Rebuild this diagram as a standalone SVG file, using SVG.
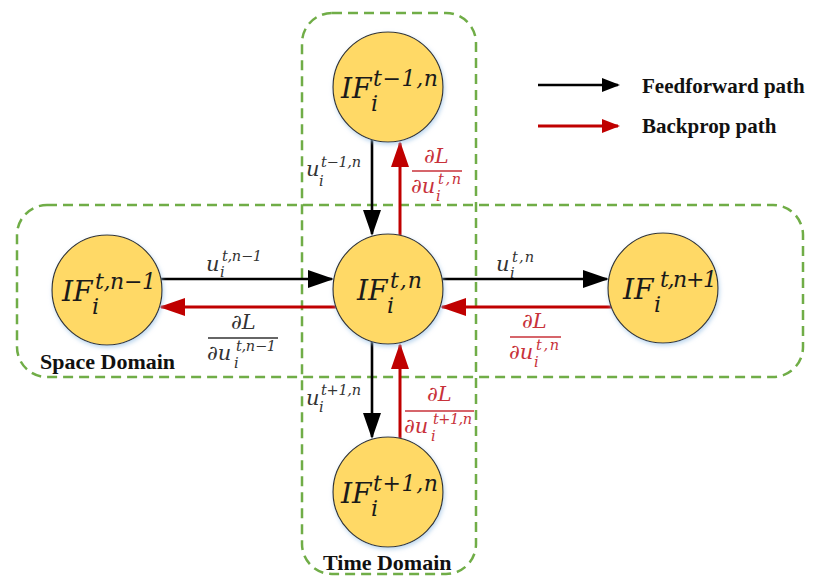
<svg xmlns="http://www.w3.org/2000/svg" width="819" height="579" viewBox="0 0 819 579">
<style>
.box{fill:none;stroke:#70AD47;stroke-width:2.5;stroke-dasharray:10,6}
.node{fill:#FFD966;stroke:#333;stroke-width:1.2;filter:url(#sh)}
.m{font-family:"DejaVu Serif",serif;font-style:italic;fill:#1a1a1a}
.big{font-size:28px}
.bs{font-size:22px}
.lab{font-size:21px;fill:#333}
.ls{font-size:14.5px;fill:#333}
.r{fill:#C8323A}
.t{font-family:"Liberation Serif",serif;font-weight:bold;fill:#111}
.ff{stroke:#000;stroke-width:2.6;fill:none}
.bp{stroke:#C00000;stroke-width:3;fill:none}
.bar{stroke:#C8323A;stroke-width:1.3}
</style>
<defs>
<filter id="sh" x="-20%" y="-20%" width="140%" height="140%">
<feDropShadow dx="1" dy="2" stdDeviation="2" flood-color="#9DC3E6" flood-opacity="0.7"/>
</filter>
<marker id="ak" viewBox="0 0 26 18" markerWidth="26" markerHeight="18" refX="24" refY="9" orient="auto" markerUnits="userSpaceOnUse"><path d="M0,0 L26,9 L0,18 z" fill="#000"/></marker>
<marker id="ar" viewBox="0 0 26 18" markerWidth="26" markerHeight="18" refX="24" refY="9" orient="auto" markerUnits="userSpaceOnUse"><path d="M0,0 L26,9 L0,18 z" fill="#C00000"/></marker>
<marker id="lk" viewBox="0 0 18 14" markerWidth="18" markerHeight="14" refX="16" refY="7" orient="auto" markerUnits="userSpaceOnUse"><path d="M0,0 L18,7 L0,14 z" fill="#000"/></marker>
<marker id="lr" viewBox="0 0 18 14" markerWidth="18" markerHeight="14" refX="16" refY="7" orient="auto" markerUnits="userSpaceOnUse"><path d="M0,0 L18,7 L0,14 z" fill="#C00000"/></marker>
</defs>

<g id="domains">
<rect class="box" x="17" y="205" width="786" height="172" rx="30"/>
<rect class="box" x="302" y="13" width="174" height="561" rx="30"/>
<text class="t" x="40" y="369" font-size="22">Space Domain</text>
<text class="t" x="323" y="570" font-size="22">Time Domain</text>
</g>

<g id="connectors">
<line class="ff" x1="161" y1="279" x2="332" y2="279" marker-end="url(#ak)"/>
<line class="bp" x1="336" y1="307" x2="161" y2="307" marker-end="url(#ar)"/>
<line class="ff" x1="442" y1="279" x2="607" y2="279" marker-end="url(#ak)"/>
<line class="bp" x1="611" y1="307" x2="442" y2="307" marker-end="url(#ar)"/>
<line class="ff" x1="372" y1="140" x2="372" y2="234" marker-end="url(#ak)"/>
<line class="bp" x1="400" y1="235" x2="400" y2="143" marker-end="url(#ar)"/>
<line class="ff" x1="372" y1="342" x2="372" y2="437" marker-end="url(#ak)"/>
<line class="bp" x1="400" y1="438" x2="400" y2="345" marker-end="url(#ar)"/>
</g>

<g id="labels">
<text class="m lab" x="306" y="176">u</text>
<text class="m ls" x="321" y="167" textLength="40" lengthAdjust="spacing">t−1,n</text>
<text class="m ls" x="319" y="186">i</text>

<text class="m lab r" x="424" y="163">∂L</text>
<line class="bar" x1="412" y1="171" x2="462" y2="171"/>
<text class="m lab r" x="411" y="193">∂u</text>
<text class="m ls r" x="438" y="184" textLength="23" lengthAdjust="spacing">t,n</text>
<text class="m ls r" x="436" y="201">i</text>

<text class="m lab" x="206" y="271">u</text>
<text class="m ls" x="222" y="261" textLength="40" lengthAdjust="spacing">t,n−1</text>
<text class="m ls" x="220" y="277">i</text>

<text class="m lab" x="231" y="329">∂L</text>
<line x1="208" y1="338" x2="278" y2="338" stroke="#333" stroke-width="1.3"/>
<text class="m lab" x="207" y="360">∂u</text>
<text class="m ls" x="236" y="351" textLength="40" lengthAdjust="spacing">t,n−1</text>
<text class="m ls" x="234" y="368">i</text>

<text class="m lab" x="496" y="271">u</text>
<text class="m ls" x="512" y="262" textLength="22" lengthAdjust="spacing">t,n</text>
<text class="m ls" x="510" y="278">i</text>

<text class="m lab r" x="522" y="328">∂L</text>
<line class="bar" x1="510" y1="337" x2="561" y2="337"/>
<text class="m lab r" x="509" y="359">∂u</text>
<text class="m ls r" x="536" y="350" textLength="23" lengthAdjust="spacing">t,n</text>
<text class="m ls r" x="534" y="367">i</text>

<text class="m lab" x="306" y="405">u</text>
<text class="m ls" x="321" y="395" textLength="40" lengthAdjust="spacing">t+1,n</text>
<text class="m ls" x="319" y="412">i</text>

<text class="m lab r" x="427" y="401">∂L</text>
<line class="bar" x1="405" y1="411" x2="474" y2="411"/>
<text class="m lab r" x="404" y="433">∂u</text>
<text class="m ls r" x="433" y="424" textLength="39" lengthAdjust="spacing">t+1,n</text>
<text class="m ls r" x="431" y="441">i</text>
</g>

<g id="node-top">
<circle class="node" cx="388" cy="87" r="55"/>
<text class="m big" x="341" y="98">IF</text>
<text class="m bs" x="373" y="86" textLength="65" lengthAdjust="spacing">t−1,n</text>
<text class="m bs" x="371" y="111">i</text>
</g>
<g id="node-center">
<circle class="node" cx="388" cy="289" r="55"/>
<text class="m big" x="357" y="300">IF</text>
<text class="m bs" x="390" y="288" textLength="32" lengthAdjust="spacing">t,n</text>
<text class="m bs" x="387" y="313">i</text>
</g>
<g id="node-left">
<circle class="node" cx="107" cy="290" r="55"/>
<text class="m big" x="62" y="301">IF</text>
<text class="m bs" x="95" y="289" textLength="61" lengthAdjust="spacing">t,n−1</text>
<text class="m bs" x="92" y="314">i</text>
</g>
<g id="node-right">
<circle class="node" cx="663" cy="288" r="55"/>
<text class="m big" x="623" y="299">IF</text>
<text class="m bs" x="660" y="287" textLength="57" lengthAdjust="spacing">t,n+1</text>
<text class="m bs" x="654" y="312">i</text>
</g>
<g id="node-bottom">
<circle class="node" cx="388" cy="492" r="55"/>
<text class="m big" x="341" y="503">IF</text>
<text class="m bs" x="373" y="491" textLength="65" lengthAdjust="spacing">t+1,n</text>
<text class="m bs" x="371" y="516">i</text>
</g>

<g id="legend">
<line class="ff" x1="538" y1="85" x2="618" y2="85" stroke-width="3" marker-end="url(#lk)"/>
<line class="bp" x1="538" y1="126" x2="618" y2="126" marker-end="url(#lr)"/>
<text class="t" x="642" y="93" font-size="21">Feedforward path</text>
<text class="t" x="642" y="133" font-size="21">Backprop path</text>
</g>
</svg>
